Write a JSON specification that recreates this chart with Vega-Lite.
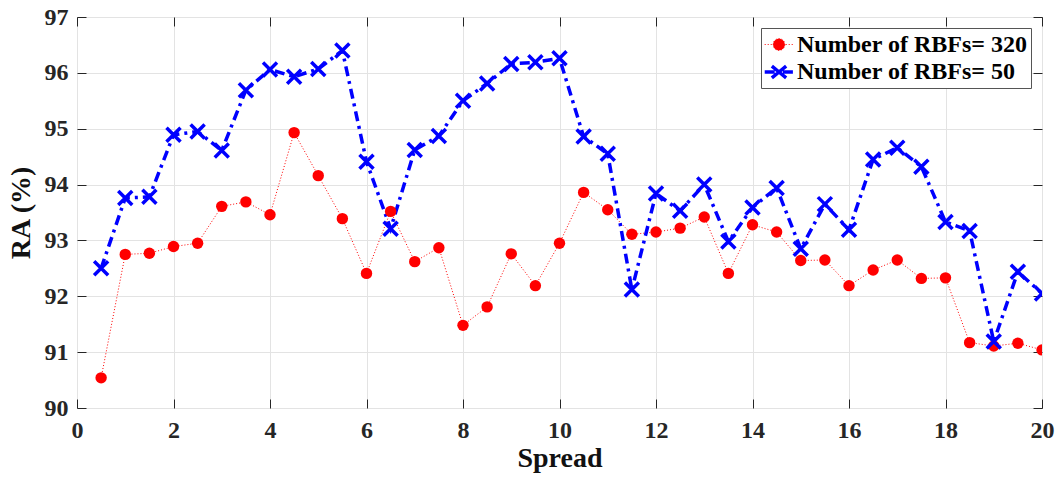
{
  "$schema": "https://vega.github.io/schema/vega-lite/v6.json",
  "autosize": {"type": "none"},
  "padding": {"left": 77, "top": 17, "right": 15, "bottom": 69},
  "width": 965,
  "height": 391,
  "background": "white",
  "config": {
    "view": {"stroke": "#444444", "strokeWidth": 1},
    "font": "Liberation Serif",
    "axis": {
      "labelFont": "Liberation Serif",
      "labelFontWeight": "bold",
      "labelFontSize": 24,
      "labelColor": "#262626",
      "labelFlush": false,
      "titleFont": "Liberation Serif",
      "titleFontWeight": "bold",
      "titleFontSize": 28,
      "titleColor": "#111111",
      "gridColor": "#e3e3e3",
      "gridWidth": 1,
      "domainColor": "#444444",
      "tickColor": "#262626",
      "tickSize": -9,
      "tickWidth": 1
    },
    "legend": {
      "orient": "top-right",
      "offset": 11,
      "fillColor": "white",
      "strokeColor": "#555555",
      "padding": 3,
      "labelFont": "Liberation Serif",
      "labelFontWeight": "bold",
      "labelFontSize": 24,
      "labelColor": "black",
      "labelLimit": 400,
      "labelOffset": 3,
      "symbolSize": 676,
      "rowPadding": -3
    }
  },
  "data": {
    "values": [
      {"spread": 0.5, "ra": 90.54, "series": "Number of RBFs= 320"},
      {"spread": 1.0, "ra": 92.75, "series": "Number of RBFs= 320"},
      {"spread": 1.5, "ra": 92.77, "series": "Number of RBFs= 320"},
      {"spread": 2.0, "ra": 92.89, "series": "Number of RBFs= 320"},
      {"spread": 2.5, "ra": 92.95, "series": "Number of RBFs= 320"},
      {"spread": 3.0, "ra": 93.61, "series": "Number of RBFs= 320"},
      {"spread": 3.5, "ra": 93.69, "series": "Number of RBFs= 320"},
      {"spread": 4.0, "ra": 93.46, "series": "Number of RBFs= 320"},
      {"spread": 4.5, "ra": 94.93, "series": "Number of RBFs= 320"},
      {"spread": 5.0, "ra": 94.16, "series": "Number of RBFs= 320"},
      {"spread": 5.5, "ra": 93.39, "series": "Number of RBFs= 320"},
      {"spread": 6.0, "ra": 92.41, "series": "Number of RBFs= 320"},
      {"spread": 6.5, "ra": 93.52, "series": "Number of RBFs= 320"},
      {"spread": 7.0, "ra": 92.62, "series": "Number of RBFs= 320"},
      {"spread": 7.5, "ra": 92.87, "series": "Number of RBFs= 320"},
      {"spread": 8.0, "ra": 91.48, "series": "Number of RBFs= 320"},
      {"spread": 8.5, "ra": 91.81, "series": "Number of RBFs= 320"},
      {"spread": 9.0, "ra": 92.76, "series": "Number of RBFs= 320"},
      {"spread": 9.5, "ra": 92.19, "series": "Number of RBFs= 320"},
      {"spread": 10.0, "ra": 92.95, "series": "Number of RBFs= 320"},
      {"spread": 10.5, "ra": 93.86, "series": "Number of RBFs= 320"},
      {"spread": 11.0, "ra": 93.55, "series": "Number of RBFs= 320"},
      {"spread": 11.5, "ra": 93.11, "series": "Number of RBFs= 320"},
      {"spread": 12.0, "ra": 93.15, "series": "Number of RBFs= 320"},
      {"spread": 12.5, "ra": 93.22, "series": "Number of RBFs= 320"},
      {"spread": 13.0, "ra": 93.42, "series": "Number of RBFs= 320"},
      {"spread": 13.5, "ra": 92.41, "series": "Number of RBFs= 320"},
      {"spread": 14.0, "ra": 93.28, "series": "Number of RBFs= 320"},
      {"spread": 14.5, "ra": 93.15, "series": "Number of RBFs= 320"},
      {"spread": 15.0, "ra": 92.64, "series": "Number of RBFs= 320"},
      {"spread": 15.5, "ra": 92.65, "series": "Number of RBFs= 320"},
      {"spread": 16.0, "ra": 92.19, "series": "Number of RBFs= 320"},
      {"spread": 16.5, "ra": 92.47, "series": "Number of RBFs= 320"},
      {"spread": 17.0, "ra": 92.65, "series": "Number of RBFs= 320"},
      {"spread": 17.5, "ra": 92.32, "series": "Number of RBFs= 320"},
      {"spread": 18.0, "ra": 92.33, "series": "Number of RBFs= 320"},
      {"spread": 18.5, "ra": 91.17, "series": "Number of RBFs= 320"},
      {"spread": 19.0, "ra": 91.11, "series": "Number of RBFs= 320"},
      {"spread": 19.5, "ra": 91.16, "series": "Number of RBFs= 320"},
      {"spread": 20.0, "ra": 91.04, "series": "Number of RBFs= 320"},
      {"spread": 0.5, "ra": 92.5, "series": "Number of RBFs= 50"},
      {"spread": 1.0, "ra": 93.76, "series": "Number of RBFs= 50"},
      {"spread": 1.5, "ra": 93.78, "series": "Number of RBFs= 50"},
      {"spread": 2.0, "ra": 94.89, "series": "Number of RBFs= 50"},
      {"spread": 2.5, "ra": 94.95, "series": "Number of RBFs= 50"},
      {"spread": 3.0, "ra": 94.61, "series": "Number of RBFs= 50"},
      {"spread": 3.5, "ra": 95.69, "series": "Number of RBFs= 50"},
      {"spread": 4.0, "ra": 96.06, "series": "Number of RBFs= 50"},
      {"spread": 4.5, "ra": 95.93, "series": "Number of RBFs= 50"},
      {"spread": 5.0, "ra": 96.07, "series": "Number of RBFs= 50"},
      {"spread": 5.5, "ra": 96.4, "series": "Number of RBFs= 50"},
      {"spread": 6.0, "ra": 94.41, "series": "Number of RBFs= 50"},
      {"spread": 6.5, "ra": 93.21, "series": "Number of RBFs= 50"},
      {"spread": 7.0, "ra": 94.62, "series": "Number of RBFs= 50"},
      {"spread": 7.5, "ra": 94.87, "series": "Number of RBFs= 50"},
      {"spread": 8.0, "ra": 95.5, "series": "Number of RBFs= 50"},
      {"spread": 8.5, "ra": 95.81, "series": "Number of RBFs= 50"},
      {"spread": 9.0, "ra": 96.16, "series": "Number of RBFs= 50"},
      {"spread": 9.5, "ra": 96.19, "series": "Number of RBFs= 50"},
      {"spread": 10.0, "ra": 96.26, "series": "Number of RBFs= 50"},
      {"spread": 10.5, "ra": 94.86, "series": "Number of RBFs= 50"},
      {"spread": 11.0, "ra": 94.55, "series": "Number of RBFs= 50"},
      {"spread": 11.5, "ra": 92.12, "series": "Number of RBFs= 50"},
      {"spread": 12.0, "ra": 93.84, "series": "Number of RBFs= 50"},
      {"spread": 12.5, "ra": 93.53, "series": "Number of RBFs= 50"},
      {"spread": 13.0, "ra": 94.0, "series": "Number of RBFs= 50"},
      {"spread": 13.5, "ra": 92.98, "series": "Number of RBFs= 50"},
      {"spread": 14.0, "ra": 93.59, "series": "Number of RBFs= 50"},
      {"spread": 14.5, "ra": 93.94, "series": "Number of RBFs= 50"},
      {"spread": 15.0, "ra": 92.85, "series": "Number of RBFs= 50"},
      {"spread": 15.5, "ra": 93.65, "series": "Number of RBFs= 50"},
      {"spread": 16.0, "ra": 93.19, "series": "Number of RBFs= 50"},
      {"spread": 16.5, "ra": 94.45, "series": "Number of RBFs= 50"},
      {"spread": 17.0, "ra": 94.66, "series": "Number of RBFs= 50"},
      {"spread": 17.5, "ra": 94.32, "series": "Number of RBFs= 50"},
      {"spread": 18.0, "ra": 93.33, "series": "Number of RBFs= 50"},
      {"spread": 18.5, "ra": 93.17, "series": "Number of RBFs= 50"},
      {"spread": 19.0, "ra": 91.19, "series": "Number of RBFs= 50"},
      {"spread": 19.5, "ra": 92.44, "series": "Number of RBFs= 50"},
      {"spread": 20.0, "ra": 92.05, "series": "Number of RBFs= 50"}
    ]
  },
  "resolve": {"axis": {"x": "independent", "y": "independent"}},
  "layer": [
    {
      "mark": {"type": "line", "clip": true},
      "encoding": {
        "x": {
          "field": "spread", "type": "quantitative",
          "scale": {"domain": [0, 20], "nice": false, "zero": false},
          "axis": {"title": "Spread", "values": [0, 2, 4, 6, 8, 10, 12, 14, 16, 18, 20], "grid": true, "labelPadding": 19, "titlePadding": 2, "domain": false}
        },
        "y": {
          "field": "ra", "type": "quantitative",
          "scale": {"domain": [90, 97], "nice": false, "zero": false},
          "axis": {"title": "RA (%)", "values": [90, 91, 92, 93, 94, 95, 96, 97], "grid": true, "labelPadding": 18, "titlePadding": 9, "domain": false}
        },
        "color": {
          "field": "series", "type": "nominal",
          "scale": {"domain": ["Number of RBFs= 320", "Number of RBFs= 50"], "range": ["#ff0000", "#0000ff"]},
          "legend": {
            "title": null,
            "encode": {
              "symbols": {
                "update": {
                  "shape": {"signal": "datum.value === 'Number of RBFs= 320' ? 'M-1.1,0H1.1M0.45,0A0.45,0.45,0,1,1,-0.45,0A0.45,0.45,0,1,1,0.45,0Z' : 'M-1.1,0H-0.3M0.3,0H1.1M0,0L0.55,0.45M0,0L-0.55,0.45M0,0L0.55,-0.45M0,0L-0.55,-0.45'"},
                  "fill": {"signal": "datum.value === 'Number of RBFs= 320' ? '#ff0000' : 'transparent'"}
                }
              }
            }
          }
        },
        "strokeDash": {
          "field": "series", "type": "nominal",
          "scale": {"domain": ["Number of RBFs= 320", "Number of RBFs= 50"], "range": [[1, 2], [10, 5, 3, 5]]},
          "legend": {"title": null}
        },
        "strokeWidth": {
          "field": "series", "type": "nominal",
          "scale": {"domain": ["Number of RBFs= 320", "Number of RBFs= 50"], "range": [1, 3.5]},
          "legend": {"title": null}
        }
      }
    },
    {
      "transform": [{"filter": "datum.series === 'Number of RBFs= 320'"}],
      "mark": {"type": "point", "shape": "circle", "filled": true, "color": "#ff0000", "strokeWidth": 1, "size": 130, "opacity": 1, "clip": true},
      "encoding": {
        "x": {
          "field": "spread", "type": "quantitative",
          "axis": {"orient": "top", "labels": false, "title": null, "grid": false, "domain": false, "values": [0, 2, 4, 6, 8, 10, 12, 14, 16, 18, 20]}
        },
        "y": {
          "field": "ra", "type": "quantitative",
          "axis": {"orient": "right", "labels": false, "title": null, "grid": false, "domain": false, "values": [90, 91, 92, 93, 94, 95, 96, 97]}
        }
      }
    },
    {
      "transform": [{"filter": "datum.series === 'Number of RBFs= 50'"}],
      "mark": {"type": "point", "shape": "M-1,-1L1,1M-1,1L1,-1", "filled": false, "color": "#0000ff", "strokeWidth": 3.5, "size": 196, "opacity": 1, "clip": true},
      "encoding": {
        "x": {"field": "spread", "type": "quantitative", "axis": null},
        "y": {"field": "ra", "type": "quantitative", "axis": null}
      }
    }
  ]
}
